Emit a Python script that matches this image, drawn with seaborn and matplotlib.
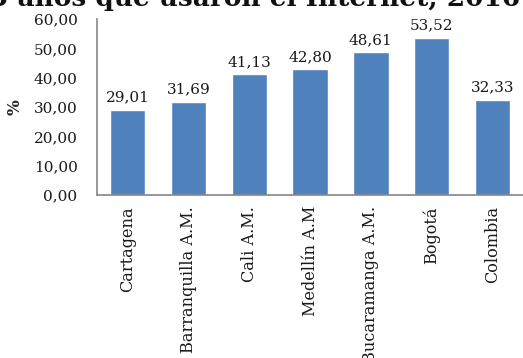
import matplotlib
matplotlib.use("Agg")
import matplotlib.pyplot as plt
import seaborn as sns
import pandas as pd

ciudades = ["Cartagena", "Barranquilla A.M.", "Cali A.M.", "Medellín A.M",
            "Bucaramanga A.M.", "Bogotá", "Colombia"]
porcentajes = [29.01, 31.69, 41.13, 42.80, 48.61, 53.52, 32.33]
ticks_y = [0, 10, 20, 30, 40, 50, 60]
titulo = "5 años que usaron el Internet, 2016"

sns.set_theme(style="white")
plt.rcParams["font.family"] = ["DejaVu Serif"]

df = pd.DataFrame({"ciudad": ciudades, "pct": porcentajes})

fig = plt.figure(figsize=(5.23, 3.58), dpi=100)
ax = fig.add_axes([0.1855, 0.4553, 0.8145, 0.4916])

sns.barplot(data=df, x="ciudad", y="pct", color="#4F81BD", saturation=1,
            width=0.58, ax=ax)

def coma(v):
    return f"{v:.2f}".replace(".", ",")

ax.bar_label(ax.containers[0], labels=[coma(v) for v in porcentajes],
             padding=4, fontsize=11, color="#1a1a1a")

ax.set_ylim(0, 60)
ax.set_yticks(ticks_y)
ax.set_yticklabels([coma(v) for v in ticks_y], fontsize=11, color="#1a1a1a")
ax.set_xlim(-0.5, len(ciudades) - 0.5)
ax.set_xticks(range(len(ciudades)))
ax.set_xticklabels(ciudades, rotation=90, fontsize=11.6, color="#1a1a1a")
ax.tick_params(axis="y", length=0, pad=14)
ax.tick_params(axis="x", length=0, pad=8)

ax.set_xlabel("")
ax.set_ylabel("%", fontsize=12, fontweight="bold")
ax.yaxis.set_label_coords(-0.172, 0.5)

for s in ["top", "right"]:
    ax.spines[s].set_visible(False)
for s in ["left", "bottom"]:
    ax.spines[s].set_color("#868686")
    ax.spines[s].set_linewidth(1.2)

fig.text(-0.02, 0.983, titulo, fontsize=19, fontweight="bold",
         ha="left", va="baseline", color="#111111")

fig.savefig("out.png", dpi=100)
